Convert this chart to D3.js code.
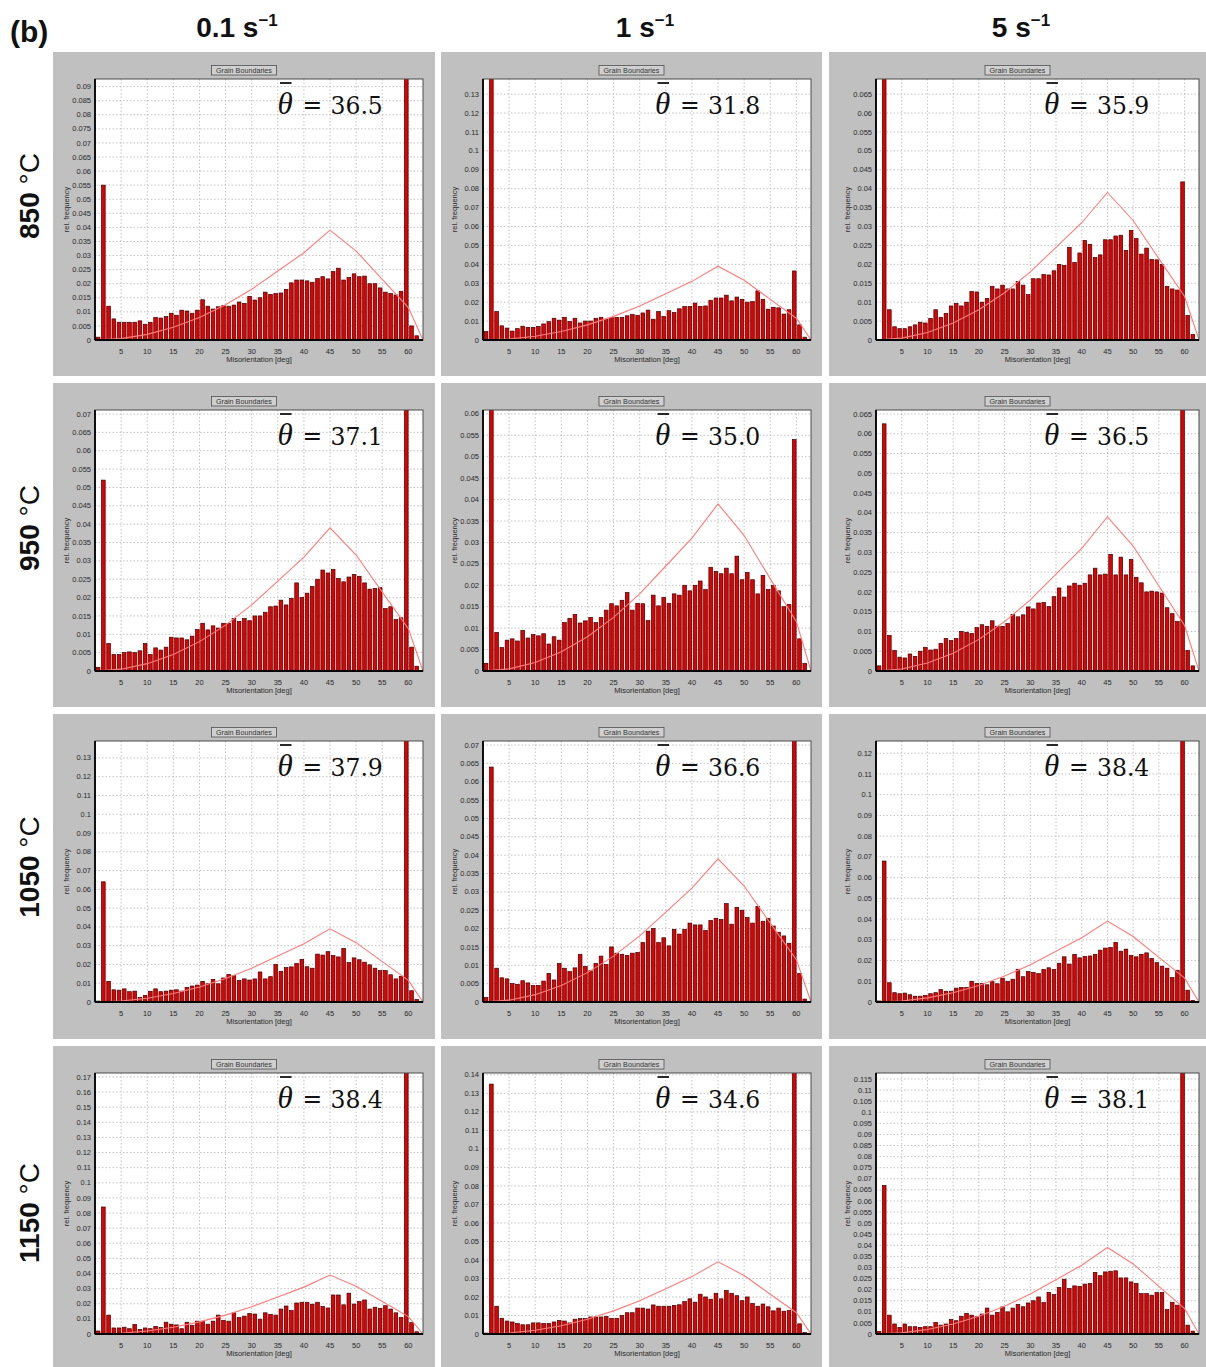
<!DOCTYPE html>
<html>
<head>
<meta charset="utf-8">
<script src="https://cdn.jsdelivr.net/npm/d3@7"></script>
<style>
  body { margin: 0; background: #fff; }
  svg { display: block; }
</style>
</head>
<body>
<svg id="fig" width="1206" height="1367"></svg>
<script>
// ---- data -------------------------------------------------------------
const temperatures = ["850", "950", "1050", "1150"];
const strainRates = ["0.1", "1", "5"];
const meanTheta = [
  [36.5, 31.8, 35.9],
  [37.1, 35.0, 36.5],
  [37.9, 36.6, 38.4],
  [38.4, 34.6, 38.1]
];
// lower edge of each 1° misorientation bin
const binLower = d3.range(0, 62);
const xTicks = [5, 10, 15, 20, 25, 30, 35, 40, 45, 50, 55, 60];
const xMax = 62.8;
// y-axis top value and tick step of each panel
const yAxisTop = [
  [0.0927, 0.138, 0.069],
  [0.0711, 0.0609, 0.066],
  [0.139, 0.0711, 0.1259],
  [0.1726, 0.141, 0.1177]
];
const yTickStep = [
  [0.005, 0.01, 0.005],
  [0.005, 0.005, 0.005],
  [0.01, 0.005, 0.01],
  [0.01, 0.01, 0.005]
];
// random-texture (Mackenzie) reference curve
const mackenzieDeg  = [0, 5, 10, 15, 20, 25, 30, 35, 40, 45, 50, 55, 60, 62.8];
const mackenzieFreq = [0, 0.0005, 0.002, 0.0045, 0.008, 0.0125, 0.018, 0.0245, 0.031, 0.039, 0.0316, 0.0215, 0.0115, 0];

const freq850_01 = [0.001, 0.055, 0.012, 0.0075, 0.0063, 0.0063, 0.0063, 0.0063, 0.0068, 0.0056,
  0.0063, 0.008, 0.0078, 0.0083, 0.0095, 0.0088, 0.0106, 0.0103, 0.0095, 0.0106,
  0.0143, 0.012, 0.011, 0.0118, 0.0122, 0.012, 0.0124, 0.0135, 0.013, 0.0155,
  0.0142, 0.015, 0.017, 0.0162, 0.0165, 0.0167, 0.018, 0.0203, 0.0213, 0.0213,
  0.021, 0.0205, 0.0218, 0.0225, 0.0217, 0.0243, 0.0255, 0.0213, 0.0222, 0.0235,
  0.0225, 0.0227, 0.02, 0.02, 0.0185, 0.017, 0.0165, 0.016, 0.0173, 0.16,
  0.005, 0.0015];
const freq850_1 = [0.0045, 0.25, 0.015, 0.0075, 0.0063, 0.0047, 0.006, 0.0073, 0.0067, 0.0067,
  0.0072, 0.0085, 0.0097, 0.0115, 0.0105, 0.012, 0.0098, 0.0115, 0.009, 0.01,
  0.01, 0.0115, 0.012, 0.011, 0.0118, 0.012, 0.012, 0.0128, 0.0135, 0.013,
  0.0143, 0.0158, 0.011, 0.015, 0.0125, 0.0155, 0.0145, 0.0165, 0.0177, 0.0177,
  0.0195, 0.0178, 0.018, 0.021, 0.0222, 0.0222, 0.0237, 0.0207, 0.0227, 0.0215,
  0.02, 0.0203, 0.026, 0.0215, 0.0163, 0.0173, 0.017, 0.0137, 0.016, 0.0365,
  0.008, 0.0015];
const freq850_5 = [0, 0.15, 0.008, 0.0035, 0.003, 0.003, 0.0035, 0.004, 0.0047, 0.0045,
  0.0057, 0.008, 0.006, 0.007, 0.009, 0.0097, 0.009, 0.01, 0.0128, 0.0127,
  0.01, 0.011, 0.0142, 0.0135, 0.0145, 0.0135, 0.0135, 0.0155, 0.0145, 0.012,
  0.0162, 0.0162, 0.0173, 0.0172, 0.0183, 0.02, 0.0197, 0.0245, 0.0205, 0.023,
  0.0263, 0.0253, 0.0218, 0.0225, 0.0265, 0.0265, 0.0275, 0.0277, 0.0237, 0.029,
  0.0268, 0.0227, 0.0243, 0.0213, 0.0212, 0.02, 0.0142, 0.0135, 0.0132, 0.0418,
  0.0065, 0.0015];
const freq950_01 = [0.001, 0.052, 0.0075, 0.0045, 0.0045, 0.005, 0.0052, 0.005, 0.0055, 0.0075,
  0.0045, 0.0063, 0.0057, 0.0065, 0.0092, 0.009, 0.009, 0.0085, 0.0095, 0.0113,
  0.013, 0.0112, 0.0123, 0.0117, 0.013, 0.013, 0.0143, 0.0135, 0.0143, 0.0137,
  0.015, 0.015, 0.016, 0.0175, 0.0177, 0.0193, 0.018, 0.0198, 0.024, 0.02,
  0.0212, 0.023, 0.025, 0.0275, 0.0267, 0.0277, 0.0252, 0.0243, 0.0256, 0.0263,
  0.0258, 0.024, 0.0223, 0.0225, 0.0227, 0.017, 0.0175, 0.014, 0.0145, 0.15,
  0.0065, 0.0013];
const freq950_1 = [0.0018, 0.12, 0.009, 0.0055, 0.0072, 0.0075, 0.007, 0.0095, 0.0077, 0.0085,
  0.0082, 0.0087, 0.0063, 0.008, 0.0072, 0.0113, 0.0123, 0.0132, 0.0112, 0.0117,
  0.0125, 0.0113, 0.0125, 0.0142, 0.0157, 0.0152, 0.0165, 0.0183, 0.0142, 0.0158,
  0.0157, 0.0118, 0.0177, 0.0152, 0.0172, 0.0158, 0.018, 0.0177, 0.02, 0.0187,
  0.02, 0.021, 0.019, 0.0242, 0.0232, 0.0227, 0.024, 0.0227, 0.0268, 0.0213,
  0.023, 0.0213, 0.018, 0.0223, 0.019, 0.02, 0.0187, 0.015, 0.0155, 0.054,
  0.0075, 0.0018];
const freq950_5 = [0.0013, 0.0625, 0.009, 0.0052, 0.0035, 0.0033, 0.0043, 0.0037, 0.005, 0.006,
  0.0053, 0.0055, 0.007, 0.0082, 0.0077, 0.0082, 0.01, 0.0098, 0.0095, 0.011,
  0.0117, 0.0113, 0.0127, 0.0113, 0.0113, 0.012, 0.0143, 0.0137, 0.0142, 0.0162,
  0.0157, 0.0172, 0.0173, 0.0163, 0.0188, 0.021, 0.0187, 0.0215, 0.0222, 0.0217,
  0.0222, 0.0243, 0.026, 0.0243, 0.0245, 0.0295, 0.0243, 0.0288, 0.0243, 0.0282,
  0.0237, 0.0223, 0.02, 0.0202, 0.02, 0.0197, 0.016, 0.0145, 0.0125, 0.13,
  0.0052, 0.0013];
const freq1050_01 = [0.0005, 0.064, 0.011, 0.0065, 0.0063, 0.007, 0.0055, 0.0058, 0.0025, 0.0035,
  0.0057, 0.007, 0.0055, 0.0058, 0.0063, 0.0065, 0.0058, 0.0078, 0.0085, 0.009,
  0.011, 0.0097, 0.012, 0.0097, 0.0128, 0.0147, 0.014, 0.0115, 0.0123, 0.0117,
  0.0123, 0.016, 0.0123, 0.0135, 0.02, 0.0163, 0.0183, 0.0187, 0.0205, 0.0227,
  0.0188, 0.018, 0.0255, 0.025, 0.0268, 0.0247, 0.024, 0.0285, 0.021, 0.0235,
  0.0225, 0.0212, 0.0198, 0.018, 0.0167, 0.0167, 0.0145, 0.0123, 0.0137, 0.22,
  0.006, 0.0013];
const freq1050_1 = [0.0012, 0.064, 0.0092, 0.0066, 0.0063, 0.005, 0.0048, 0.0058, 0.0052, 0.0045,
  0.0045, 0.0057, 0.0078, 0.006, 0.0105, 0.0092, 0.0083, 0.0093, 0.013, 0.0097,
  0.0085, 0.0105, 0.0125, 0.0102, 0.015, 0.0133, 0.013, 0.0127, 0.0133, 0.0135,
  0.0162, 0.0193, 0.02, 0.0162, 0.0175, 0.0153, 0.0198, 0.0185, 0.0198, 0.0215,
  0.021, 0.021, 0.0195, 0.0222, 0.0228, 0.0225, 0.0268, 0.0212, 0.0258, 0.025,
  0.023, 0.0215, 0.026, 0.022, 0.0228, 0.0207, 0.019, 0.018, 0.016, 0.14,
  0.0078, 0.0008];
const freq1050_5 = [0.0005, 0.068, 0.0093, 0.0045, 0.004, 0.0043, 0.0035, 0.0028, 0.0028, 0.0032,
  0.004, 0.0045, 0.006, 0.0052, 0.0052, 0.0067, 0.007, 0.007, 0.01, 0.009,
  0.009, 0.0083, 0.0098, 0.0088, 0.0115, 0.01, 0.011, 0.0158, 0.0122, 0.0147,
  0.0143, 0.0137, 0.0157, 0.0165, 0.0157, 0.0187, 0.0218, 0.0183, 0.023, 0.0213,
  0.022, 0.0222, 0.023, 0.025, 0.026, 0.0263, 0.0288, 0.0245, 0.0255, 0.0225,
  0.0218, 0.023, 0.0237, 0.021, 0.019, 0.0173, 0.0163, 0.0118, 0.0153, 0.2,
  0.0057, 0.0008];
const freq1150_01 = [0.002, 0.084, 0.0125, 0.004, 0.004, 0.0045, 0.0035, 0.0063, 0.003, 0.004,
  0.0035, 0.005, 0.0043, 0.0078, 0.0065, 0.006, 0.0035, 0.0078, 0.0058, 0.0085,
  0.0085, 0.0065, 0.0085, 0.0125, 0.009, 0.0085, 0.014, 0.011, 0.0118, 0.0135,
  0.0132, 0.0098, 0.014, 0.013, 0.0125, 0.0165, 0.0185, 0.0155, 0.0205, 0.021,
  0.021, 0.0197, 0.021, 0.0183, 0.0172, 0.0258, 0.0258, 0.0193, 0.027, 0.0198,
  0.0215, 0.0225, 0.0165, 0.0177, 0.017, 0.0187, 0.0165, 0.014, 0.011, 0.3,
  0.0075, 0.0015];
const freq1150_1 = [0.0005, 0.135, 0.015, 0.0085, 0.007, 0.0065, 0.0057, 0.005, 0.005, 0.006,
  0.006, 0.0057, 0.0057, 0.0065, 0.0073, 0.007, 0.006, 0.008, 0.0083, 0.0083,
  0.0092, 0.0092, 0.0092, 0.0095, 0.0085, 0.0085, 0.01, 0.0115, 0.0115, 0.014,
  0.014, 0.0135, 0.0157, 0.015, 0.015, 0.015, 0.0155, 0.0158, 0.0175, 0.019,
  0.0172, 0.0215, 0.02, 0.0188, 0.022, 0.019, 0.0235, 0.022, 0.0207, 0.018,
  0.02, 0.0165, 0.015, 0.0162, 0.0147, 0.0125, 0.014, 0.0123, 0.0127, 0.25,
  0.0055, 0.0008];
const freq1150_5 = [0.0012, 0.067, 0.0085, 0.0045, 0.003, 0.0045, 0.0033, 0.0033, 0.003, 0.0033,
  0.0033, 0.0052, 0.004, 0.0045, 0.0065, 0.006, 0.008, 0.0093, 0.0085, 0.0078,
  0.009, 0.0117, 0.0085, 0.0097, 0.0122, 0.01, 0.0117, 0.0133, 0.0123, 0.014,
  0.015, 0.0167, 0.0142, 0.0188, 0.0178, 0.021, 0.0247, 0.0205, 0.0217, 0.0215,
  0.0225, 0.0228, 0.0278, 0.0263, 0.028, 0.0283, 0.0285, 0.0253, 0.0253, 0.0235,
  0.0228, 0.0182, 0.0182, 0.0175, 0.0187, 0.0187, 0.011, 0.0143, 0.013, 0.2,
  0.004, 0.0013];

const panelFreq = [
  [freq850_01, freq850_1, freq850_5],
  [freq950_01, freq950_1, freq950_5],
  [freq1050_01, freq1050_1, freq1050_5],
  [freq1150_01, freq1150_1, freq1150_5]
];

// ---- layout -----------------------------------------------------------
const panelX = [53, 441, 829];
const panelW = [382, 381, 377];
const panelY = [52, 383, 714, 1046];
const panelH = [324, 324, 325, 321];
const plotDx = [42, 42, 47];
const plotW  = [328, 328, 323];
const plotDy = 27;
const plotH  = 261;
const thetaDx = [182.5, 172, 168];
const headerX = [237, 645, 1021];
const rowLabelY = [196, 528, 867, 1213];

const svg = d3.select("#fig");
const smallFont = "'Liberation Sans', Arial, sans-serif";
const fmtY = d3.format(".3~f");

// figure letter
svg.append("text")
  .attr("x", 10).attr("y", 42)
  .attr("font-family", smallFont).attr("font-weight", "bold")
  .attr("font-size", 30).attr("fill", "#111")
  .text("(b)");

// strain-rate column headers
strainRates.forEach((r, c) => {
  const t = svg.append("text")
    .attr("x", headerX[c]).attr("y", 37)
    .attr("text-anchor", "middle")
    .attr("font-family", smallFont).attr("font-weight", "bold")
    .attr("font-size", 28).attr("fill", "#111");
  t.append("tspan").text(r + " s");
  t.append("tspan").attr("dy", -11).attr("font-size", 17).text("\u22121");
});

// temperature row labels
temperatures.forEach((tmp, r) => {
  const t = svg.append("text")
    .attr("transform", `translate(39,${rowLabelY[r]}) rotate(-90)`)
    .attr("text-anchor", "middle")
    .attr("font-family", smallFont)
    .attr("font-size", 28).attr("fill", "#111");
  t.append("tspan").attr("font-weight", "bold").text(tmp + " ");
  t.append("tspan").text("\u00b0C");
});

const defs = svg.append("defs");

temperatures.forEach((tmp, r) => {
  strainRates.forEach((rate, c) => {
    const freq = panelFreq[r][c];
    const px = panelX[c], py = panelY[r];
    const left = px + plotDx[c], top = py + plotDy;
    const w = plotW[c], h = plotH;

    const g = svg.append("g");

    // grey panel background
    g.append("rect")
      .attr("x", px).attr("y", py)
      .attr("width", panelW[c]).attr("height", panelH[r])
      .attr("fill", "#c0c0c0");

    // "Grain Boundaries" caption button
    const bx = px + panelW[c] / 2;
    g.append("rect")
      .attr("x", bx - 32.5).attr("y", py + 13.5)
      .attr("width", 65).attr("height", 9.5)
      .attr("fill", "#cfcfcf").attr("stroke", "#505050").attr("stroke-width", 0.8);
    g.append("text")
      .attr("x", bx).attr("y", py + 21)
      .attr("text-anchor", "middle")
      .attr("font-family", smallFont).attr("font-size", 7.2).attr("fill", "#333")
      .text("Grain Boundaries");

    const x = d3.scaleLinear().domain([0, xMax]).range([left, left + w]);
    const y = d3.scaleLinear().domain([0, yAxisTop[r][c]]).range([top + h, top]);

    // plot area
    g.append("rect")
      .attr("x", left).attr("y", top).attr("width", w).attr("height", h)
      .attr("fill", "#fff");

    const step = yTickStep[r][c];
    const nT = Math.floor(yAxisTop[r][c] / step + 1e-6);
    const yTicks = d3.range(0, nT + 1).map(i => +(i * step).toFixed(4));

    // dotted grid
    g.append("g").selectAll("line").data(yTicks.filter(v => v > 0)).join("line")
      .attr("x1", left).attr("x2", left + w)
      .attr("y1", d => y(d)).attr("y2", d => y(d))
      .attr("stroke", "#b4b4b4").attr("stroke-width", 0.8)
      .attr("stroke-dasharray", "1.5,2");
    g.append("g").selectAll("line").data(xTicks).join("line")
      .attr("x1", d => x(d)).attr("x2", d => x(d))
      .attr("y1", top).attr("y2", top + h)
      .attr("stroke", "#b4b4b4").attr("stroke-width", 0.8)
      .attr("stroke-dasharray", "1.5,2");

    // clip for bars that exceed the axis
    const clipId = `clip-${r}-${c}`;
    defs.append("clipPath").attr("id", clipId)
      .append("rect").attr("x", left).attr("y", top).attr("width", w).attr("height", h);

    const plot = g.append("g").attr("clip-path", `url(#${clipId})`);

    // histogram bars
    plot.append("g").selectAll("rect")
      .data(binLower.map((k, i) => ({ k, v: freq[i] })).filter(d => d.v > 0))
      .join("rect")
      .attr("x", d => x(d.k + 0.25))
      .attr("width", x(0.7) - x(0))
      .attr("y", d => y(d.v))
      .attr("height", d => y(0) - y(d.v))
      .attr("fill", "#e00000")
      .attr("stroke", "#3c0000").attr("stroke-width", 0.7);

    // Mackenzie reference curve
    plot.append("path")
      .datum(mackenzieDeg.map((d, i) => [d, mackenzieFreq[i]]))
      .attr("d", d3.line().x(d => x(d[0])).y(d => y(d[1])))
      .attr("fill", "none").attr("stroke", "#ff7b7b").attr("stroke-width", 1.1);

    // frame and axes
    g.append("rect")
      .attr("x", left).attr("y", top).attr("width", w).attr("height", h)
      .attr("fill", "none").attr("stroke", "#4a4a4a").attr("stroke-width", 1);
    g.append("line")
      .attr("x1", left).attr("x2", left).attr("y1", top).attr("y2", top + h)
      .attr("stroke", "#000").attr("stroke-width", 1.8);
    g.append("line")
      .attr("x1", left).attr("x2", left + w).attr("y1", top + h).attr("y2", top + h)
      .attr("stroke", "#000").attr("stroke-width", 1.8);

    // y tick labels
    g.append("g").selectAll("text").data(yTicks).join("text")
      .attr("x", left - 4).attr("y", d => y(d) + 2.6)
      .attr("text-anchor", "end")
      .attr("font-family", smallFont).attr("font-size", 7.5).attr("fill", "#2a2a2a")
      .text(d => fmtY(d));

    // x tick labels
    g.append("g").selectAll("text").data(xTicks).join("text")
      .attr("x", d => x(d)).attr("y", top + h + 13.5)
      .attr("text-anchor", "middle")
      .attr("font-family", smallFont).attr("font-size", 7.5).attr("fill", "#2a2a2a")
      .text(d => d);

    // axis titles
    g.append("text")
      .attr("x", left + w / 2).attr("y", top + h + 22)
      .attr("text-anchor", "middle")
      .attr("font-family", smallFont).attr("font-size", 7.5).attr("fill", "#2a2a2a")
      .text("Misorientation [deg]");
    g.append("text")
      .attr("transform", `translate(${left - 26},${top + h / 2}) rotate(-90)`)
      .attr("text-anchor", "middle")
      .attr("font-family", smallFont).attr("font-size", 7.5).attr("fill", "#2a2a2a")
      .text("rel. frequency");

    // mean misorientation annotation
    const tx = left + thetaDx[c], ty = top + 35;
    g.append("text")
      .attr("x", tx).attr("y", ty)
      .attr("font-family", "'Liberation Serif', 'DejaVu Serif', serif")
      .attr("font-style", "italic").attr("font-size", 31).attr("fill", "#111")
      .text("\u03b8");
    g.append("line")
      .attr("x1", tx + 2.5).attr("x2", tx + 14)
      .attr("y1", ty - 31).attr("y2", ty - 31)
      .attr("stroke", "#111").attr("stroke-width", 1.8);
    g.append("text")
      .attr("x", tx + 25).attr("y", ty - 1)
      .attr("font-family", "'DejaVu Serif', serif")
      .attr("font-size", 23.5).attr("fill", "#111")
      .text("=");
    g.append("text")
      .attr("x", tx + 53).attr("y", ty)
      .attr("font-family", "'DejaVu Serif', serif")
      .attr("font-size", 23.5).attr("fill", "#111")
      .text(meanTheta[r][c].toFixed(1));
  });
});
</script>
</body>
</html>
